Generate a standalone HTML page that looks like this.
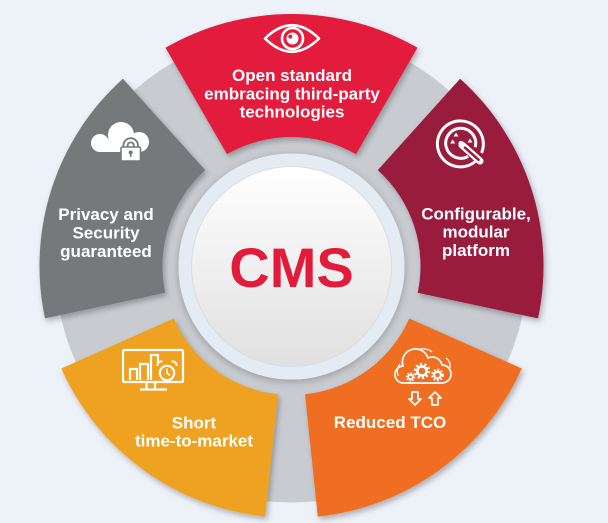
<!DOCTYPE html>
<html>
<head>
<meta charset="utf-8">
<style>
  html, body { margin: 0; padding: 0; background: #edf1f8; }
  body { width: 608px; height: 523px; overflow: hidden; }
  svg { display: block; }
  .t { font-family: "Liberation Sans", Arial, sans-serif; font-weight: bold; font-size: 17px; fill: #ffffff; text-anchor: middle; }
</style>
</head>
<body>
<svg width="608" height="523" viewBox="0 0 608 523" xmlns="http://www.w3.org/2000/svg">
  <defs>
    <filter id="sh" x="-20%" y="-20%" width="140%" height="140%">
      <feDropShadow dx="2" dy="3" stdDeviation="3" flood-color="#000" flood-opacity="0.28"/>
    </filter>
    <filter id="sh2" x="-20%" y="-20%" width="140%" height="140%">
      <feDropShadow dx="0" dy="2" stdDeviation="4" flood-color="#000" flood-opacity="0.25"/>
    </filter>
    <linearGradient id="wg" x1="0" y1="0" x2="0" y2="1">
      <stop offset="0" stop-color="#ffffff"/>
      <stop offset="1" stop-color="#e0e0e0"/>
    </linearGradient>
  </defs>

  <rect width="608" height="523" fill="#edf1f8"/>

  <!-- gray ring -->
  <circle cx="291.5" cy="266.5" r="174.5" fill="none" stroke="#c8ccd0" stroke-width="123"/>

  <!-- segments -->
  <g filter="url(#sh)">
    <path d="M165.5,47.8 A252,252 0 0 1 417.5,47.8 L356,154.3 A129,129 0 0 0 227,154.3 Z" fill="#e31c3d"/>
    <path d="M460.1,78.7 A252,252 0 0 1 538,318.4 L417.7,292.8 A129,129 0 0 0 377.8,170.1 Z" fill="#9a1c3e"/>
    <path d="M521.7,368.5 A252,252 0 0 1 317.8,516.6 L305,394.3 A129,129 0 0 0 409.3,318.5 Z" fill="#f06e22"/>
    <path d="M265.2,516.6 A252,252 0 0 1 61.3,368.5 L173.7,318.5 A129,129 0 0 0 278,394.3 Z" fill="#efa220"/>
    <path d="M45,318.4 A252,252 0 0 1 122.9,78.7 L205.2,170.1 A129,129 0 0 0 165.3,292.8 Z" fill="#75797b"/>
  </g>

  <!-- center -->
  <circle cx="291.5" cy="266.5" r="113" fill="#e5ebf3" filter="url(#sh2)"/>
  <circle cx="291.5" cy="266.5" r="100" fill="url(#wg)" stroke="#d8dde3" stroke-width="1"/>
  <text x="291.5" y="287" font-family="Liberation Sans, Arial, sans-serif" font-weight="bold" font-size="56" fill="#e21b3a" text-anchor="middle">CMS</text>

  <!-- Red: eye icon -->
  <g fill="none" stroke="#fff" stroke-width="2.6">
    <path d="M265,38.5 Q292,12 319,38.5 Q292,65 265,38.5 Z" stroke-linejoin="round"/>
    <circle cx="292.5" cy="38.5" r="10.5"/>
  </g>
  <circle cx="292.5" cy="38.5" r="6" fill="#fff"/>
  <circle cx="290.3" cy="36.6" r="2" fill="#e31c3d"/>

  <text class="t" x="292" y="81">Open standard</text>
  <text class="t" x="292" y="99.3">embracing third-party</text>
  <text class="t" x="292" y="117.5">technologies</text>

  <!-- Maroon: config icon -->
  <g fill="none" stroke="#fff" stroke-width="3">
    <path d="M475.2,161.5 A23,23 0 1 1 481.5,153"/>
    <path d="M468.2,156.3 A15,15 0 1 1 475.2,147.2"/>
  </g>
  <line x1="462" y1="145" x2="480" y2="161" stroke="#fff" stroke-width="7" stroke-linecap="round"/>
  <line x1="465" y1="147.7" x2="478.5" y2="159.7" stroke="#9a1c3e" stroke-width="2.6" stroke-linecap="round"/>
  <circle cx="461" cy="143.5" r="2.6" fill="#fff"/>
  <g fill="#fff">
    <path d="M456,132.5 l2.5,4 h-5 z"/>
    <path d="M452.7,139.5 l2.5,4 h-5 z"/>
    <path d="M470,138.5 l2.5,4 h-5 z"/>
  </g>

  <text class="t" x="476" y="219.3">Configurable,</text>
  <text class="t" x="476" y="237.7">modular</text>
  <text class="t" x="476" y="256">platform</text>

  <!-- Gray: cloud lock -->
  <g fill="#fff">
    <circle cx="100" cy="143" r="9"/>
    <circle cx="121" cy="135" r="13"/>
    <circle cx="139" cy="142" r="10"/>
    <rect x="100" y="139" width="40" height="13"/>
  </g>
  <path d="M125.5,148 V145.5 A5.2,5.2 0 0 1 135.9,145.5 V148" fill="none" stroke="#75797b" stroke-width="6"/>
  <path d="M125.5,148 V145.5 A5.2,5.2 0 0 1 135.9,145.5 V148" fill="none" stroke="#fff" stroke-width="2.4"/>
  <rect x="121" y="147" width="19.5" height="14" rx="1.5" fill="#fff" stroke="#75797b" stroke-width="1.6"/>
  <circle cx="130.7" cy="152.5" r="2" fill="#75797b"/>
  <rect x="129.9" y="153" width="1.6" height="4" fill="#75797b"/>

  <text class="t" x="106" y="220">Privacy and</text>
  <text class="t" x="106" y="238.5">Security</text>
  <text class="t" x="106" y="257">guaranteed</text>

  <!-- Yellow: monitor icon -->
  <g fill="none" stroke="#fff" stroke-width="2.2">
    <rect x="123" y="350" width="60" height="32" rx="1"/>
    <path d="M146.5,383 V389 M155,383 V389 M140,389.5 H167"/>
    <path d="M130,380 V369 H137 V380 M140,380 V364 H148 V380 M151,380 V355 H158 V363.5"/>
    <circle cx="167" cy="373" r="7.2" fill="#efa220"/>
    <path d="M167,368.5 V373 L170,375.5" stroke-width="1.6"/>
    <path d="M157.5,366 A4,4 0 0 1 162.5,361.5 M171.5,361.5 A4,4 0 0 1 176.5,366" stroke-width="2"/>
  </g>

  <text class="t" x="194" y="428.7">Short</text>
  <text class="t" x="194" y="446.3">time-to-market</text>

  <!-- Orange: cloud gears icon -->
  <g fill="none" stroke="#fff" stroke-width="1.7">
    <path d="M404,383 A8.5,8.5 0 0 1 403,366 A13,13 0 0 1 428,358 A10,10 0 0 1 442,365 A9,9 0 0 1 442,383 Z"/>
    <path d="M398.5,376 A10.5,10.5 0 0 1 400,364" stroke-width="1.2"/>
    <path d="M419,349.5 A14,14 0 0 1 432,352" stroke-width="1.3"/>
    <path d="M446,358 A10,10 0 0 1 450,368" stroke-width="1.3"/>
    <path d="M412,392 H418 V399 H421 L415,405 L409,399 H412 Z" stroke-linejoin="round"/>
    <path d="M432,405 H438 V398 H441 L435,392 L429,398 H432 Z" stroke-linejoin="round"/>
  </g>
  <g fill="none" stroke="#fff">
    <circle cx="422" cy="371" r="4.6" stroke-width="2.6"/>
    <circle cx="422" cy="371" r="7" stroke-width="2.4" stroke-dasharray="2.2 2.2"/>
    <circle cx="437.5" cy="375" r="3.4" stroke-width="2.2"/>
    <circle cx="437.5" cy="375" r="5.4" stroke-width="2" stroke-dasharray="1.8 1.8"/>
    <circle cx="410.5" cy="377" r="2.3" stroke-width="1.8"/>
    <circle cx="410.5" cy="377" r="3.9" stroke-width="1.6" stroke-dasharray="1.5 1.5"/>
  </g>

  <text class="t" x="390" y="428">Reduced TCO</text>
</svg>
</body>
</html>
